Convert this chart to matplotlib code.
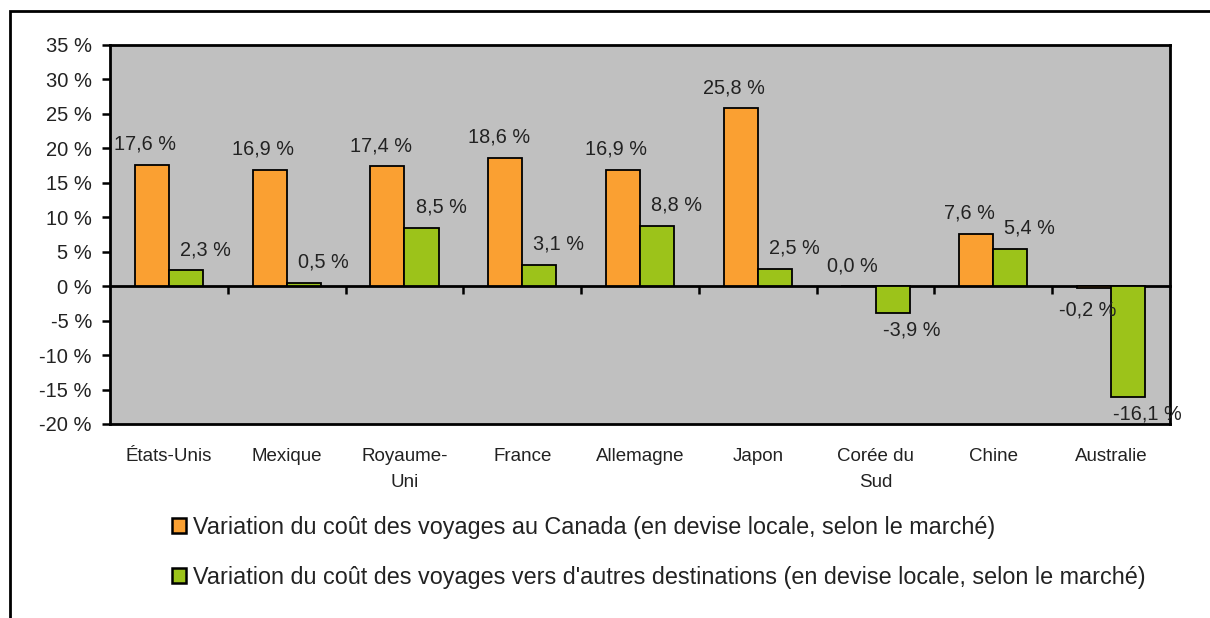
import matplotlib
matplotlib.use("Agg")
import matplotlib.pyplot as plt
import matplotlib.patches as mpatches
from matplotlib.ticker import FuncFormatter
import numpy as np

plt.rcParams['font.family'] = ['Liberation Sans', 'DejaVu Sans']

# données
pays = ["États-Unis", "Mexique", "Royaume-\nUni", "France", "Allemagne",
        "Japon", "Corée du\nSud", "Chine", "Australie"]
canada = [17.6, 16.9, 17.4, 18.6, 16.9, 25.8, 0.0, 7.6, -0.2]
autres = [2.3, 0.5, 8.5, 3.1, 8.8, 2.5, -3.9, 5.4, -16.1]
noms_series = ["Variation du coût des voyages au Canada (en devise locale, selon le marché)",
               "Variation du coût des voyages vers d'autres destinations (en devise locale, selon le marché)"]

orange = "#FAA032"
vert = "#9CC31A"
texte = "#222222"

fig = plt.figure(figsize=(12.1, 6.18), dpi=100)
ax = fig.add_axes([110/1210, 1-424/618, 1060/1210, 379/618])
ax.set_facecolor("#C0C0C0")

x = np.arange(len(pays))
w = 0.29
ax.bar(x - w/2, canada, w, color=orange, edgecolor="black", linewidth=1.3, zorder=3)
ax.bar(x + w/2, autres, w, color=vert, edgecolor="black", linewidth=1.3, zorder=3)

ymin, ymax = -20, 35
ax.set_ylim(ymin, ymax)
ax.set_xlim(-0.5, len(pays) - 0.5)
ax.set_yticks(np.arange(-20, 36, 5))
ax.yaxis.set_major_formatter(FuncFormatter(lambda v, p: f"{int(v)} %"))
ax.tick_params(axis='y', direction='out', length=6, width=1.8, labelsize=14.5,
               pad=7, labelcolor=texte)

ax.set_xticks(x)
ax.set_xticklabels(pays, fontsize=13.5, linespacing=1.7, color=texte)
ax.tick_params(axis='x', length=0, pad=17)

for s in ax.spines.values():
    s.set_linewidth(2)

# ligne du zéro avec graduations entre catégories
zero = ax.secondary_xaxis((0 - ymin) / (ymax - ymin))
zero.set_xticks(np.arange(0.5, len(pays) - 0.5, 1))
zero.set_xticklabels([])
zero.tick_params(direction='out', length=6, width=1.8)
zero.spines['bottom'].set_linewidth(2)

def fmt(v):
    return f"{v:.1f} %".replace(".", ",")

fs = 14.3
for i, v in enumerate(canada):
    if v >= 0:
        ax.annotate(fmt(v), (i - 0.2, v), xytext=(0, 8), textcoords="offset points",
                    ha="center", va="bottom", fontsize=fs, color=texte, zorder=4)
    else:
        ax.annotate(fmt(v), (i - 0.2, v), xytext=(0, -9), textcoords="offset points",
                    ha="center", va="top", fontsize=fs, color=texte, zorder=4)
for i, v in enumerate(autres):
    if v >= 0:
        ax.annotate(fmt(v), (i + 0.31, v), xytext=(0, 8), textcoords="offset points",
                    ha="center", va="bottom", fontsize=fs, color=texte, zorder=4)
    else:
        ax.annotate(fmt(v), (i + 0.31, v), xytext=(0, -5), textcoords="offset points",
                    ha="center", va="top", fontsize=fs, color=texte, zorder=4)

handles = [mpatches.Patch(facecolor=orange, edgecolor="black", linewidth=1.8),
           mpatches.Patch(facecolor=vert, edgecolor="black", linewidth=1.8)]
leg = fig.legend(handles, noms_series, loc="upper left", bbox_to_anchor=(172/1210, 1-516/618),
                 frameon=False, fontsize=16.8, handlelength=0.6, handleheight=0.6,
                 handletextpad=0.3, labelspacing=1.15, borderpad=0, borderaxespad=0)
for t in leg.get_texts():
    t.set_color(texte)

# cadre extérieur
fig.patches.append(mpatches.Rectangle((10/1210, -0.1), 1.2, 1 - 11/618 + 0.1,
                                      transform=fig.transFigure, fill=False,
                                      linewidth=2, edgecolor="black"))

fig.savefig("out.png", dpi=100)
